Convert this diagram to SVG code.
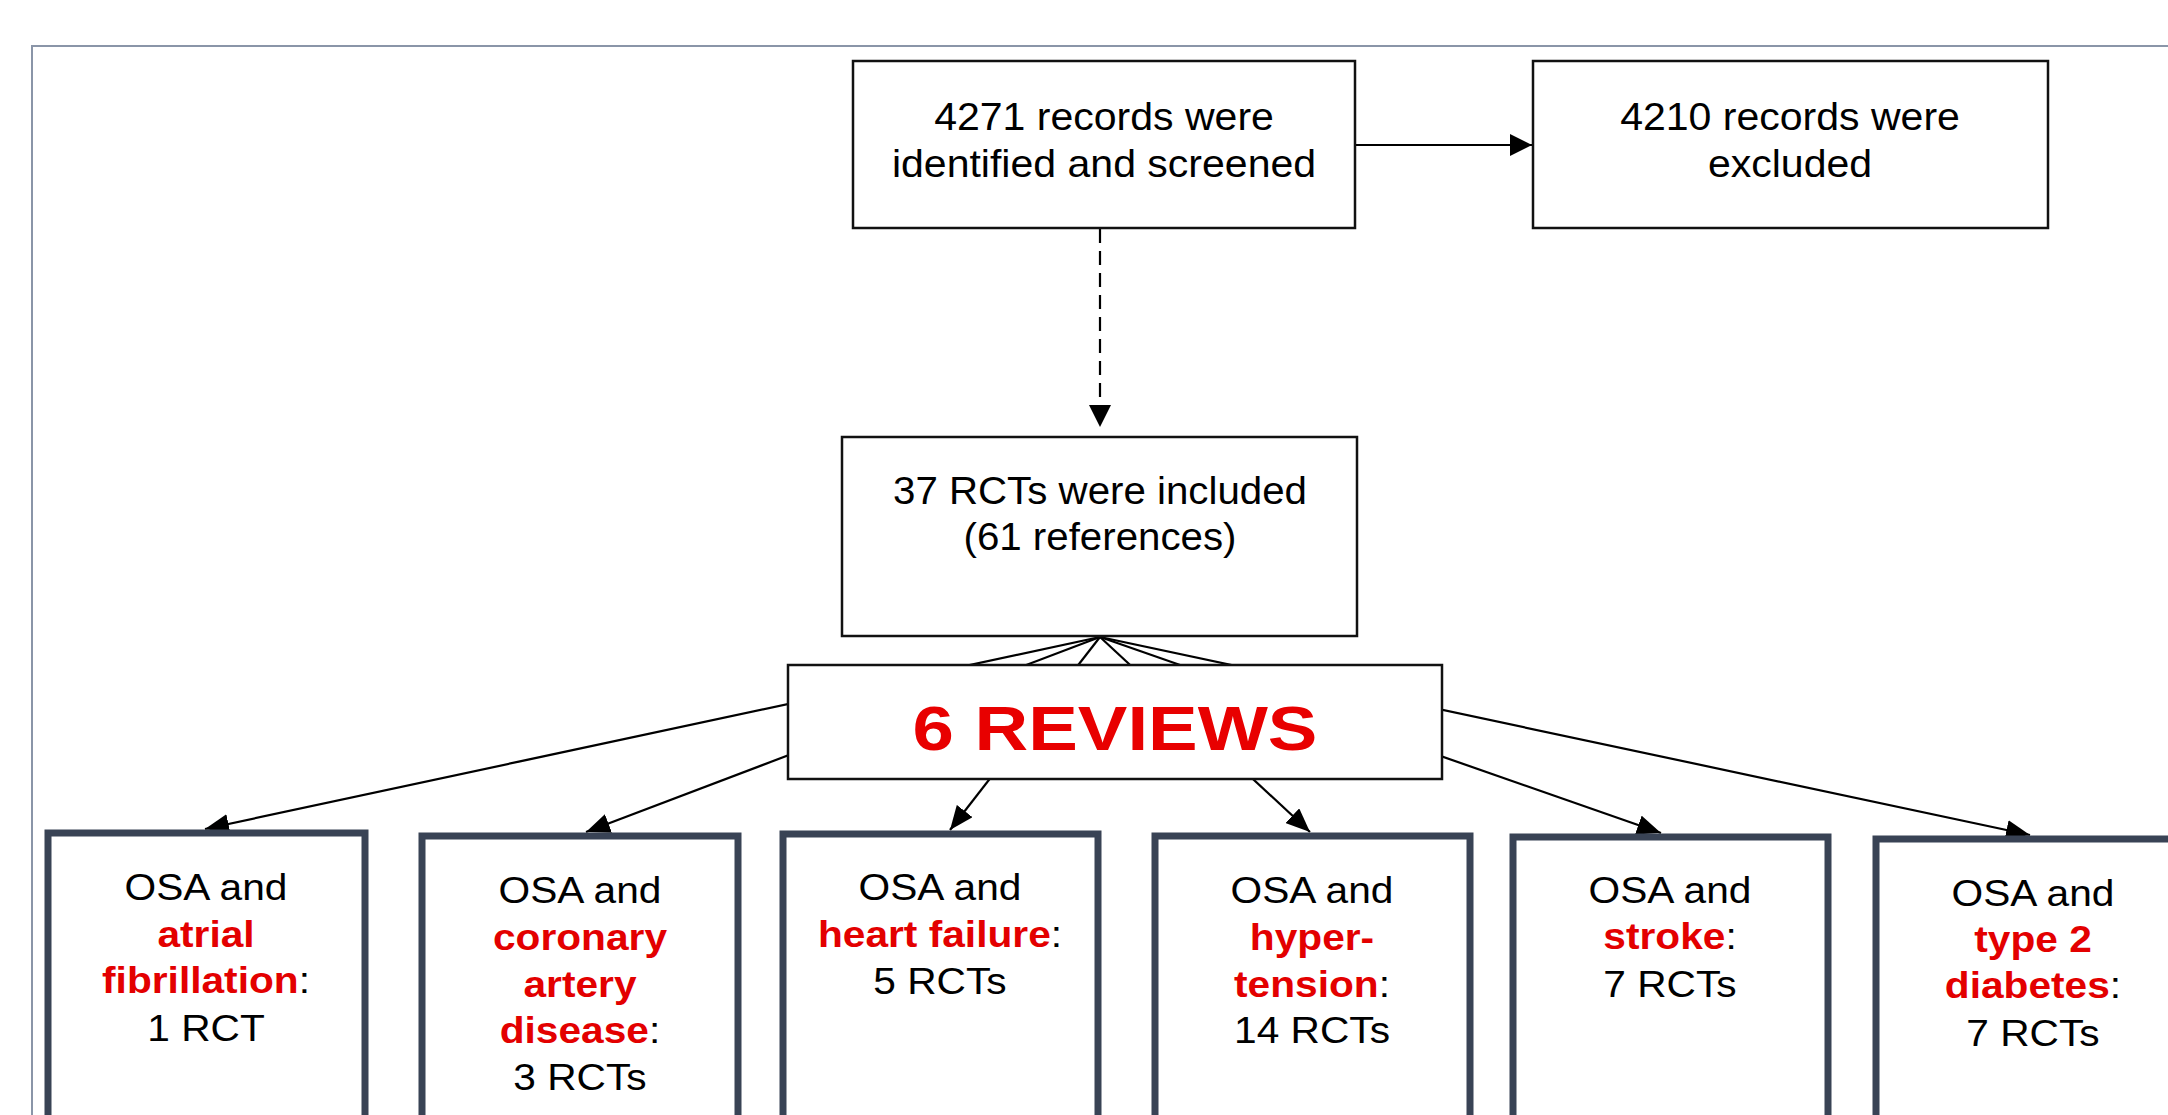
<svg xmlns="http://www.w3.org/2000/svg" width="2168" height="1115" viewBox="0 0 2168 1115">
<style>
.t{font-family:"Liberation Sans",Arial,sans-serif;font-size:38px;fill:#000;text-anchor:middle}
.s{font-size:36px}
.r{font-weight:bold;fill:#e30000}
.big{font-family:"Liberation Sans",Arial,sans-serif;font-size:63px;font-weight:bold;fill:#e80000;text-anchor:middle}
.box{fill:#fff;stroke:#111;stroke-width:2.5}
.ob{fill:#fff;stroke:#394355;stroke-width:7}
.ln{fill:none;stroke:#000;stroke-width:2.2}
.dash{fill:none;stroke:#000;stroke-width:2.2;stroke-dasharray:14 8}
</style>
<defs>
<marker id="ah" markerUnits="userSpaceOnUse" markerWidth="24" markerHeight="20" refX="24" refY="10" orient="auto">
<path d="M0,0 L24,10 L0,20 z" fill="#000" stroke="none"/>
</marker>
<marker id="ah2" markerUnits="userSpaceOnUse" markerWidth="22" markerHeight="22" refX="22" refY="11" orient="auto">
<path d="M0,0 L22,11 L0,22 z" fill="#000" stroke="none"/>
</marker>
</defs>
<rect width="2168" height="1115" fill="#fff"/>
<rect x="32" y="46" width="2200" height="1200" fill="none" stroke="#8a95a8" stroke-width="2"/>

<g id="connectors">
<line class="ln" x1="1356" y1="145" x2="1532" y2="145" marker-end="url(#ah2)"/>
<line class="dash" x1="1100" y1="229" x2="1100" y2="427" marker-end="url(#ah2)"/>
<line class="ln" x1="1100" y1="637" x2="205" y2="829" marker-end="url(#ah)"/>
<line class="ln" x1="1100" y1="637" x2="586" y2="832" marker-end="url(#ah)"/>
<line class="ln" x1="1100" y1="637" x2="950" y2="830" marker-end="url(#ah)"/>
<line class="ln" x1="1100" y1="637" x2="1310" y2="832" marker-end="url(#ah)"/>
<line class="ln" x1="1100" y1="637" x2="1661" y2="833" marker-end="url(#ah)"/>
<line class="ln" x1="1100" y1="637" x2="2030" y2="835" marker-end="url(#ah)"/>
</g>

<g id="screened">
<rect class="box" x="853" y="61" width="502" height="167"/>
<text class="t" transform="translate(1104,0) scale(1.08,1)" x="0" y="130">4271 records were</text>
<text class="t" transform="translate(1104,0) scale(1.08,1)" x="0" y="177">identified and screened</text>
</g>

<g id="excluded">
<rect class="box" x="1533" y="61" width="515" height="167"/>
<text class="t" transform="translate(1790,0) scale(1.08,1)" x="0" y="130">4210 records were</text>
<text class="t" transform="translate(1790,0) scale(1.08,1)" x="0" y="177">excluded</text>
</g>

<g id="included">
<rect class="box" x="842" y="437" width="515" height="199"/>
<text class="t" transform="translate(1100,0) scale(1.06,1)" x="0" y="504">37 RCTs were included</text>
<text class="t" transform="translate(1100,0) scale(1.06,1)" x="0" y="550">(61 references)</text>
</g>

<g id="reviews">
<rect class="box" x="788" y="665" width="654" height="114"/>
<text class="big" transform="translate(1115,0) scale(1.18,1)" x="0" y="750">6 REVIEWS</text>
</g>

<g id="af">
<rect class="ob" x="48" y="833" width="317" height="400"/>
<g transform="translate(206,0) scale(1.13,1)">
<text class="t s" x="0" y="900">OSA and</text>
<text class="t s" x="0" y="947"><tspan class="r">atrial</tspan></text>
<text class="t s" x="0" y="993"><tspan class="r">fibrillation</tspan>:</text>
<text class="t s" x="0" y="1041">1 RCT</text>
</g>
</g>

<g id="cad">
<rect class="ob" x="422" y="836" width="316" height="400"/>
<g transform="translate(580,0) scale(1.13,1)">
<text class="t s" x="0" y="903">OSA and</text>
<text class="t s" x="0" y="950"><tspan class="r">coronary</tspan></text>
<text class="t s" x="0" y="997"><tspan class="r">artery</tspan></text>
<text class="t s" x="0" y="1043"><tspan class="r">disease</tspan>:</text>
<text class="t s" x="0" y="1090">3 RCTs</text>
</g>
</g>

<g id="hf">
<rect class="ob" x="783" y="834" width="315" height="400"/>
<g transform="translate(940,0) scale(1.13,1)">
<text class="t s" x="0" y="900">OSA and</text>
<text class="t s" x="0" y="947"><tspan class="r">heart failure</tspan>:</text>
<text class="t s" x="0" y="994">5 RCTs</text>
</g>
</g>

<g id="htn">
<rect class="ob" x="1155" y="836" width="315" height="400"/>
<g transform="translate(1312,0) scale(1.13,1)">
<text class="t s" x="0" y="903">OSA and</text>
<text class="t s" x="0" y="950"><tspan class="r">hyper-</tspan></text>
<text class="t s" x="0" y="997"><tspan class="r">tension</tspan>:</text>
<text class="t s" x="0" y="1043">14 RCTs</text>
</g>
</g>

<g id="stroke">
<rect class="ob" x="1513" y="837" width="315" height="400"/>
<g transform="translate(1670,0) scale(1.13,1)">
<text class="t s" x="0" y="903">OSA and</text>
<text class="t s" x="0" y="949"><tspan class="r">stroke</tspan>:</text>
<text class="t s" x="0" y="997">7 RCTs</text>
</g>
</g>

<g id="t2d">
<rect class="ob" x="1876" y="839" width="315" height="400"/>
<g transform="translate(2033,0) scale(1.13,1)">
<text class="t s" x="0" y="906">OSA and</text>
<text class="t s" x="0" y="952"><tspan class="r">type 2</tspan></text>
<text class="t s" x="0" y="998"><tspan class="r">diabetes</tspan>:</text>
<text class="t s" x="0" y="1046">7 RCTs</text>
</g>
</g>
</svg>
